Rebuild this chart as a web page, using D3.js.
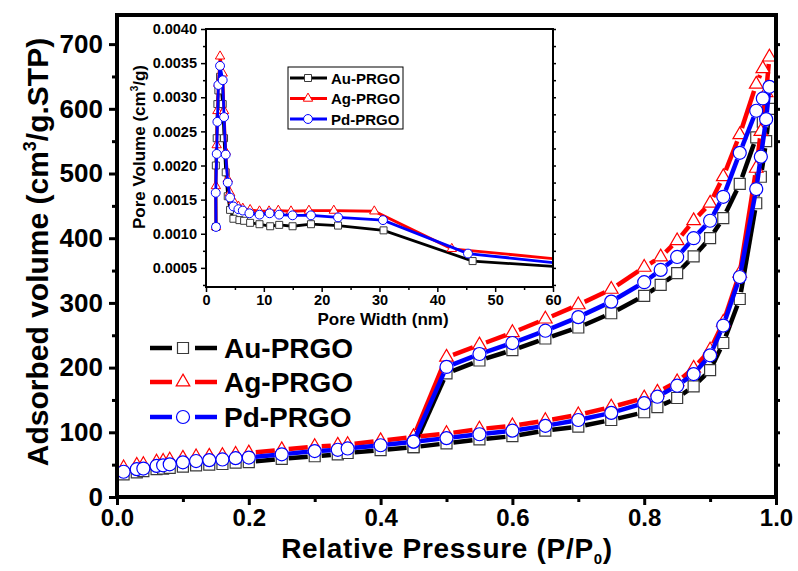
<!DOCTYPE html>
<html>
<head>
<meta charset="utf-8">
<script src="https://cdn.jsdelivr.net/npm/d3@7/dist/d3.min.js"></script>
<style>
body { margin: 0; background: #fff; }
svg text { font-family: "Liberation Sans", Arial, sans-serif; font-weight: bold; fill: #000; }
</style>
</head>
<body>
<svg id="chart" width="798" height="571"></svg>
<script>
// isotherm, adsorption branch (P/P0)
var pAds = [0.01, 0.03, 0.04, 0.06, 0.07, 0.08, 0.10, 0.12, 0.14, 0.16, 0.18, 0.20, 0.25, 0.30, 0.335, 0.35, 0.40, 0.45,
            0.50, 0.55, 0.60, 0.65, 0.70, 0.75, 0.80, 0.82, 0.85, 0.875, 0.90, 0.92, 0.945, 0.97, 0.977, 0.985];
var auAds = [35, 38, 40, 43, 44, 45, 47, 49, 50, 51, 53, 54, 59, 63, 66, 68, 72.6, 77,
             83, 89, 94, 102.5, 108.7, 119, 131, 139, 153, 171, 196, 238, 306, 454, 495, 550];
var agAds = [45, 49, 50, 54, 55, 57, 60, 62, 63, 64, 66, 68, 73, 78, 80, 81, 87, 93,
             98, 105, 110, 118, 127, 139, 153, 162, 178, 199, 227, 270, 346, 508, 565, 625];
var pdAds = [39, 43, 44, 48, 49, 50.5, 53.6, 55.6, 57, 58, 60, 61, 66, 71, 73, 75, 80, 85.5,
             91, 97, 102.5, 110, 119, 130, 145, 155, 172, 190, 219, 265, 340, 476, 526, 584];

// desorption branch
var pDes = [0.99, 0.98, 0.97, 0.945, 0.92, 0.90, 0.875, 0.85, 0.825, 0.80, 0.75, 0.70, 0.65, 0.60, 0.55, 0.50, 0.45];
var auDes = [600, 580, 556, 484, 431, 400, 372, 346, 328, 311, 284, 262, 245, 227, 211, 191, 77];
var agDes = [680, 662, 638, 560, 495, 454, 427, 396, 371, 355, 321, 297, 275, 254, 235, 216, 93];
var pdDes = [634, 616, 597, 532, 464, 427, 400, 371, 351, 332, 302, 278, 257, 238, 221, 201, 85.5];

// inset: pore size distribution (last point lies just past the 60 nm edge)
var auW = [1.73, 1.70, 1.85, 1.97, 2.14, 2.43, 2.89, 3.12, 3.41, 3.76, 4.16, 4.74, 5.78, 6.59, 7.63, 9.25, 11.1, 12.66, 14.97, 18.15, 22.83, 30.7, 46.1, 62];
var auV = [0.0011, 0.0020, 0.0024, 0.0029, 0.0031, 0.0033, 0.0029, 0.0024, 0.0019, 0.00155, 0.00135, 0.00122, 0.0012, 0.00119, 0.00116, 0.00114, 0.00111, 0.00113, 0.00111, 0.00114, 0.00112, 0.00105, 0.0006, 0.00051];
var agW = [1.73, 1.70, 1.85, 1.97, 2.14, 2.43, 2.89, 3.12, 3.41, 3.76, 4.16, 4.74, 5.6, 6.36, 7.63, 9.25, 10.9, 12.5, 14.7, 17.8, 22.1, 29.1, 42.5, 62];
var agV = [0.0011, 0.0017, 0.0023, 0.0028, 0.0032, 0.0036, 0.00335, 0.0028, 0.0022, 0.0018, 0.0016, 0.00148, 0.0014, 0.00137, 0.00135, 0.00133, 0.00133, 0.00134, 0.00133, 0.00134, 0.00134, 0.00133, 0.00078, 0.00062];
var pdW = [1.73, 1.68, 1.85, 1.97, 2.14, 2.43, 2.89, 3.12, 3.41, 3.76, 4.16, 4.74, 5.6, 6.36, 7.5, 9.25, 11.0, 12.66, 14.97, 18.15, 22.83, 30.6, 45.3, 62];
var pdV = [0.0011, 0.0016, 0.00217, 0.00264, 0.00318, 0.00346, 0.00325, 0.00271, 0.00216, 0.00175, 0.00153, 0.0014, 0.00136, 0.00134, 0.0013, 0.00128, 0.0013, 0.00128, 0.00127, 0.00127, 0.00124, 0.0012, 0.00071, 0.00056];

var names = ["Au-PRGO", "Ag-PRGO", "Pd-PRGO"];
var yTicks = [0, 100, 200, 300, 400, 500, 600, 700];
var xTicks = [0, 0.2, 0.4, 0.6, 0.8, 1.0];
var insetYTicks = [0.0005, 0.0010, 0.0015, 0.0020, 0.0025, 0.0030, 0.0035, 0.0040];
var insetXTicks = [0, 10, 20, 30, 40, 50, 60];

var svg = d3.select("#chart");

var series = [
  {name: names[0], ads: auAds, des: auDes, w: auW, v: auV, color: "#000000", edge: "#3a3a3a", shape: d3.symbolSquare, area: 121, areaIn: 49},
  {name: names[1], ads: agAds, des: agDes, w: agW, v: agV, color: "#ff0000", edge: "#ff0000", shape: d3.symbolTriangle, area: 80, areaIn: 38},
  {name: names[2], ads: pdAds, des: pdDes, w: pdW, v: pdV, color: "#0000ff", edge: "#0000ff", shape: d3.symbolCircle, area: 133, areaIn: 62}
];

// ---------- main plot ----------
var x = d3.scaleLinear().domain([0, 1]).range([117, 776]);
var y = d3.scaleLinear().domain([0, 745]).range([497, 15]);

function gapSegments(pts, gap) {
  var segs = [];
  for (var i = 0; i < pts.length - 1; i++) {
    var a = pts[i], b = pts[i + 1];
    var dx = b[0] - a[0], dy = b[1] - a[1];
    var len = Math.sqrt(dx * dx + dy * dy);
    if (len <= 2 * gap) continue;
    var ux = dx / len, uy = dy / len;
    segs.push([a[0] + ux * gap, a[1] + uy * gap, b[0] - ux * gap, b[1] - uy * gap]);
  }
  return segs;
}

function drawMarker(g, s, cx, cy, area, sw) {
  g.append("path")
    .attr("d", d3.symbol().type(s.shape).size(area)())
    .attr("transform", "translate(" + cx + "," + cy + ")")
    .attr("fill", "#fff")
    .attr("stroke", s.edge)
    .attr("stroke-width", sw);
}

var plot = svg.append("g");
series.forEach(function(s) {
  var pts = pAds.map(function(p, i) { return [x(p), y(s.ads[i])]; })
    .concat(pDes.map(function(p, i) { return [x(p), y(s.des[i])]; }));
  var g = plot.append("g");
  gapSegments(pts, 7).forEach(function(d) {
    g.append("line")
      .attr("x1", d[0]).attr("y1", d[1]).attr("x2", d[2]).attr("y2", d[3])
      .attr("stroke", s.color).attr("stroke-width", 4.5);
  });
  pts.forEach(function(p) { drawMarker(g, s, p[0], p[1], s.area, 1.2); });
});

// axes
var axL = svg.append("g").attr("transform", "translate(117,0)")
  .call(d3.axisLeft(y).tickValues(yTicks).tickSize(8).tickPadding(6).tickFormat(d3.format("d")));
svg.append("g").attr("transform", "translate(117,0)")
  .call(d3.axisLeft(y).tickValues(d3.range(50, 745, 100)).tickSize(5).tickFormat(""));
var axB = svg.append("g").attr("transform", "translate(0,497)")
  .call(d3.axisBottom(x).tickValues(xTicks).tickSize(8).tickPadding(4).tickFormat(d3.format(".1f")));
svg.append("g").attr("transform", "translate(0,497)")
  .call(d3.axisBottom(x).tickValues([0.1, 0.3, 0.5, 0.7, 0.9]).tickSize(5).tickFormat(""));
svg.append("g").attr("transform", "translate(776,0)")
  .call(d3.axisRight(y).tickValues(d3.range(50, 745, 50)).tickSize(4).tickFormat(""));

svg.selectAll(".domain").remove();
svg.selectAll(".tick line").attr("stroke", "#000").attr("stroke-width", 3);
axL.selectAll("text").style("font-size", "26px");
axB.selectAll("text").style("font-size", "24px");

svg.append("rect").attr("x", 117).attr("y", 15).attr("width", 659).attr("height", 482)
  .attr("fill", "none").attr("stroke", "#000").attr("stroke-width", 4);

// axis titles
var yt = svg.append("text").attr("transform", "translate(48,252) rotate(-90)")
  .attr("text-anchor", "middle").style("font-size", "30px");
yt.append("tspan").text("Adsorbed volume (cm");
yt.append("tspan").attr("dy", -12).style("font-size", "18px").text("3");
yt.append("tspan").attr("dy", 12).text("/g.STP)");

var xt = svg.append("text").attr("x", 447).attr("y", 558)
  .attr("text-anchor", "middle").style("font-size", "28px").style("letter-spacing", "0.7px");
xt.append("tspan").text("Relative Pressure (P/P");
xt.append("tspan").attr("dy", 6).style("font-size", "15px").text("0");
xt.append("tspan").attr("dy", -6).text(")");

// main legend
var legRows = [348, 382, 417];
series.forEach(function(s, i) {
  var g = svg.append("g");
  var ry = legRows[i];
  g.append("line").attr("x1", 150).attr("x2", 172).attr("y1", ry).attr("y2", ry)
    .attr("stroke", s.color).attr("stroke-width", 4.5);
  g.append("line").attr("x1", 195).attr("x2", 217).attr("y1", ry).attr("y2", ry)
    .attr("stroke", s.color).attr("stroke-width", 4.5);
  drawMarker(g, s, 183, ry, s.area, 1.2);
  g.append("text").attr("x", 224).attr("y", ry + 10).style("font-size", "28px").text(s.name);
});

// ---------- inset ----------
var xi = d3.scaleLinear().domain([0, 60]).range([206, 553]);
var yi = d3.scaleLinear().domain([0.00022, 0.0040]).range([287, 29]);

var inset = svg.append("g");
inset.append("rect").attr("x", 206).attr("y", 29).attr("width", 347).attr("height", 258).attr("fill", "#fff");
svg.append("clipPath").attr("id", "insetClip")
  .append("rect").attr("x", 206).attr("y", 29).attr("width", 347).attr("height", 258);

var insetData = inset.append("g").attr("clip-path", "url(#insetClip)");
series.forEach(function(s) {
  var pts = s.w.map(function(w, i) { return [xi(w), yi(s.v[i])]; });
  var g = insetData.append("g");
  g.append("path").attr("d", d3.line()(pts))
    .attr("fill", "none").attr("stroke", s.color).attr("stroke-width", 2.8);
  pts.forEach(function(p) { drawMarker(g, s, p[0], p[1], s.areaIn, 1); });
});

var iaL = inset.append("g").attr("transform", "translate(206,0)")
  .call(d3.axisLeft(yi).tickValues(insetYTicks).tickSize(5).tickPadding(4).tickFormat(d3.format(".4f")));
inset.append("g").attr("transform", "translate(206,0)")
  .call(d3.axisLeft(yi).tickValues([0.00025, 0.00075, 0.00125, 0.00175, 0.00225, 0.00275, 0.00325, 0.00375]).tickSize(3).tickFormat(""));
var iaB = inset.append("g").attr("transform", "translate(0,287)")
  .call(d3.axisBottom(xi).tickValues(insetXTicks).tickSize(5).tickPadding(3).tickFormat(d3.format("d")));
inset.append("g").attr("transform", "translate(0,287)")
  .call(d3.axisBottom(xi).tickValues([5, 15, 25, 35, 45, 55]).tickSize(3).tickFormat(""));
inset.append("g").attr("transform", "translate(553,0)")
  .call(d3.axisRight(yi).tickValues(d3.range(0.00025, 0.00401, 0.00025)).tickSize(3).tickFormat(""));

inset.selectAll(".domain").remove();
inset.selectAll(".tick line").attr("stroke", "#000").attr("stroke-width", 1.5);
iaL.selectAll("text").style("font-size", "14.5px");
iaB.selectAll("text").style("font-size", "14.5px");

inset.append("rect").attr("x", 206).attr("y", 29).attr("width", 347).attr("height", 258)
  .attr("fill", "none").attr("stroke", "#000").attr("stroke-width", 2);

var iyt = inset.append("text").attr("transform", "translate(145,147) rotate(-90)")
  .attr("text-anchor", "middle").style("font-size", "17px");
iyt.append("tspan").text("Pore Volume (cm");
iyt.append("tspan").attr("dy", -7).style("font-size", "10px").text("3");
iyt.append("tspan").attr("dy", 7).text("/g)");

inset.append("text").attr("x", 383).attr("y", 325).attr("text-anchor", "middle")
  .style("font-size", "17px").text("Pore Width (nm)");

// inset legend
inset.append("rect").attr("x", 288).attr("y", 67).attr("width", 115).attr("height", 62)
  .attr("fill", "#fff").attr("stroke", "#000").attr("stroke-width", 1);
var inRows = [78, 98.5, 119];
series.forEach(function(s, i) {
  var g = inset.append("g");
  g.append("line").attr("x1", 290).attr("x2", 327).attr("y1", inRows[i]).attr("y2", inRows[i])
    .attr("stroke", s.color).attr("stroke-width", 2.8);
  drawMarker(g, s, 308, inRows[i], s.areaIn, 1);
  g.append("text").attr("x", 331).attr("y", inRows[i] + 5.5).style("font-size", "15px").text(s.name);
});
</script>
</body>
</html>
